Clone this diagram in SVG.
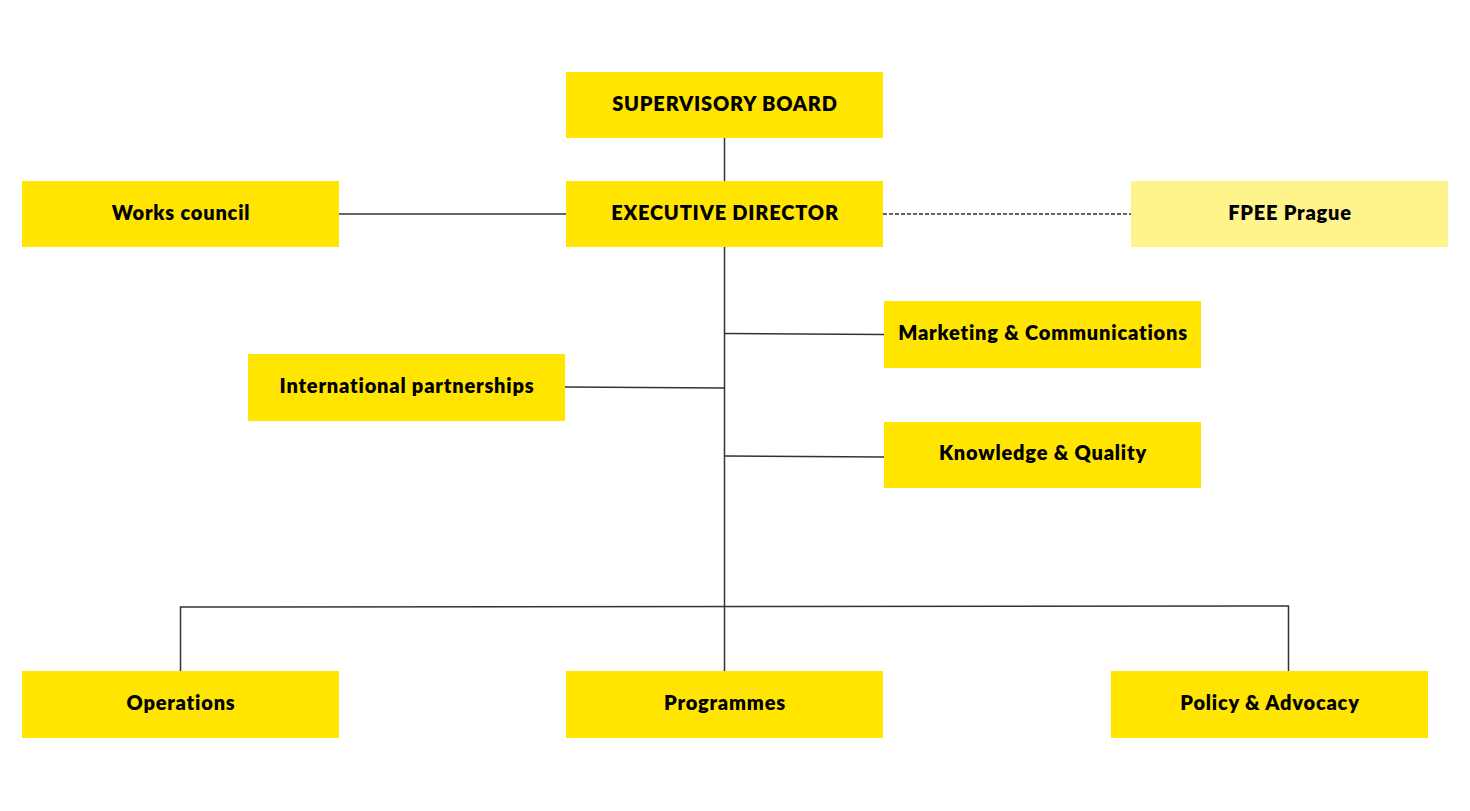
<svg xmlns="http://www.w3.org/2000/svg" width="1470" height="811" viewBox="0 0 1470 811">
<style>
.box{fill:#FFE500}
.light{fill:#FFF48B}
.lbl{font-family:Lato,"Noto Sans",sans-serif;font-weight:800;font-size:20px;letter-spacing:0.8px;fill:#000;text-anchor:middle;dominant-baseline:central}
.ln{stroke:#333;stroke-width:1.5;fill:none}
.dash{stroke:#333;stroke-width:1.5;fill:none;stroke-dasharray:4 2}
</style>
<rect width="1470" height="811" fill="#fff"/>
<g id="connectors">
<line class="ln" x1="724.5" y1="138" x2="724.5" y2="181"/>
<line class="ln" x1="724.5" y1="247" x2="724.5" y2="671"/>
<line class="ln" x1="339" y1="214" x2="566" y2="214"/>
<line class="dash" x1="883" y1="214" x2="1131" y2="214"/>
<line class="ln" x1="724.5" y1="333.5" x2="884" y2="334.5"/>
<line class="ln" x1="565" y1="387" x2="724.5" y2="388"/>
<line class="ln" x1="724.5" y1="456" x2="884" y2="457"/>
<polyline class="ln" points="180.5,671 180.5,607 1288.5,606 1288.5,671"/>
</g>
<g id="supervisory-board"><rect class="box" x="566" y="72" width="317" height="66"/><text class="lbl" x="725" y="103">SUPERVISORY BOARD</text></g>
<g id="executive-director"><rect class="box" x="566" y="181" width="317" height="66"/><text class="lbl" x="725" y="212">EXECUTIVE DIRECTOR</text></g>
<g id="works-council"><rect class="box" x="22" y="181" width="317" height="66"/><text class="lbl" x="181" y="212">Works council</text></g>
<g id="fpee-prague"><rect class="light" x="1131" y="181" width="317" height="66"/><text class="lbl" x="1290" y="212">FPEE Prague</text></g>
<g id="marketing"><rect class="box" x="884" y="301" width="317" height="67"/><text class="lbl" x="1043" y="332">Marketing &amp; Communications</text></g>
<g id="international"><rect class="box" x="248" y="354" width="317" height="67"/><text class="lbl" x="407" y="385">International partnerships</text></g>
<g id="knowledge"><rect class="box" x="884" y="422" width="317" height="66"/><text class="lbl" x="1043" y="452">Knowledge &amp; Quality</text></g>
<g id="operations"><rect class="box" x="22" y="671" width="317" height="67"/><text class="lbl" x="181" y="702">Operations</text></g>
<g id="programmes"><rect class="box" x="566" y="671" width="317" height="67"/><text class="lbl" x="725" y="702">Programmes</text></g>
<g id="policy"><rect class="box" x="1111" y="671" width="317" height="67"/><text class="lbl" x="1270" y="702">Policy &amp; Advocacy</text></g>
</svg>
